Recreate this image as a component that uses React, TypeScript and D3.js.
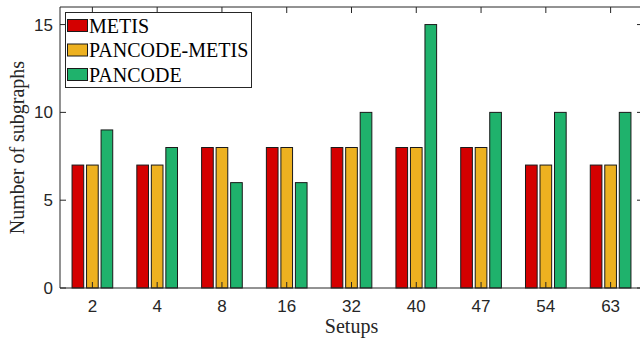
import React from "react";
import * as d3 from "d3";

const categories = ["2", "4", "8", "16", "32", "40", "47", "54", "63"];
const seriesNames = ["METIS", "PANCODE-METIS", "PANCODE"];
const metis = [7, 7, 8, 8, 8, 8, 8, 7, 7];
const pancodeMetis = [7, 7, 8, 8, 8, 8, 8, 7, 7];
const pancode = [9, 8, 6, 6, 10, 15, 10, 10, 10];
const yTicks = [0, 5, 10, 15];
const colors = ["#D40000", "#EDB120", "#1FB26C"];

export default function App() {
  const W = 640, H = 343;
  const left = 60, top = 7, bottom = 288, right = 643;
  const series = [metis, pancodeMetis, pancode];
  const x = d3.scaleLinear().domain([0.5, categories.length + 0.5]).range([left, right]);
  const y = d3.scaleLinear().domain([0, 16]).range([bottom, top]);
  const offset = 0.224;
  const bw = 0.18;
  const axisColor = "#262626";
  const serif = "'Liberation Serif', 'Times New Roman', serif";
  const sans = "'Liberation Sans', Arial, sans-serif";
  return (
    <svg width={W} height={H} style={{ position: "absolute", left: 0, top: 0 }}>
      <rect x={0} y={0} width={W} height={H} fill="#fff" />
      {series.map((vals, s) =>
        vals.map((v, i) => {
          const cx = x(i + 1) + (s - 1) * (x(1 + offset) - x(1));
          const w = x(1 + bw) - x(1);
          return (
            <rect
              key={`${s}-${i}`}
              x={cx - w / 2}
              y={y(v)}
              width={w}
              height={y(0) - y(v)}
              fill={colors[s]}
              stroke="#1a1a1a"
              strokeWidth={1}
            />
          );
        })
      )}
      {/* axes box */}
      <line x1={left} x2={left} y1={top} y2={bottom} stroke={axisColor} />
      <line x1={left} x2={W} y1={top} y2={top} stroke={axisColor} />
      <line x1={left} x2={W} y1={bottom} y2={bottom} stroke={axisColor} />
      <line x1={right} x2={right} y1={top} y2={bottom} stroke={axisColor} />
      {/* x ticks */}
      {categories.map((c, i) => (
        <g key={c}>
          <line x1={x(i + 1)} x2={x(i + 1)} y1={bottom} y2={bottom - 6} stroke={axisColor} />
          <line x1={x(i + 1)} x2={x(i + 1)} y1={top} y2={top + 6} stroke={axisColor} />
          <text x={x(i + 1)} y={bottom + 24} textAnchor="middle" fontFamily={sans} fontSize={17} fill={axisColor}>
            {c}
          </text>
        </g>
      ))}
      {/* y ticks */}
      {yTicks.map((t) => (
        <g key={t}>
          <line x1={left} x2={left + 6} y1={y(t)} y2={y(t)} stroke={axisColor} />
          <line x1={right} x2={right - 6} y1={y(t)} y2={y(t)} stroke={axisColor} />
          <text x={left - 7} y={y(t)} dy="0.36em" textAnchor="end" fontFamily={sans} fontSize={17} fill={axisColor}>
            {t}
          </text>
        </g>
      ))}
      <text x={(left + right) / 2} y={333} textAnchor="middle" fontFamily={serif} fontSize={20} fill={axisColor}>
        Setups
      </text>
      <text
        transform={`translate(24, ${(top + bottom) / 2}) rotate(-90)`}
        textAnchor="middle"
        fontFamily={serif}
        fontSize={20}
        fill={axisColor}
      >
        Number of subgraphs
      </text>
      {/* legend */}
      <rect x={65.5} y={12.5} width={186} height={75} fill="#fff" stroke={axisColor} />
      {seriesNames.map((n, i) => (
        <g key={n}>
          <rect x={67.5} y={19.5 + i * 24.5} width={20} height={12} fill={colors[i]} stroke="#1a1a1a" />
          <text x={89} y={25.5 + i * 24.5} dy="0.35em" fontFamily={serif} fontSize={20} fill="#000">
            {n}
          </text>
        </g>
      ))}
    </svg>
  );
}
